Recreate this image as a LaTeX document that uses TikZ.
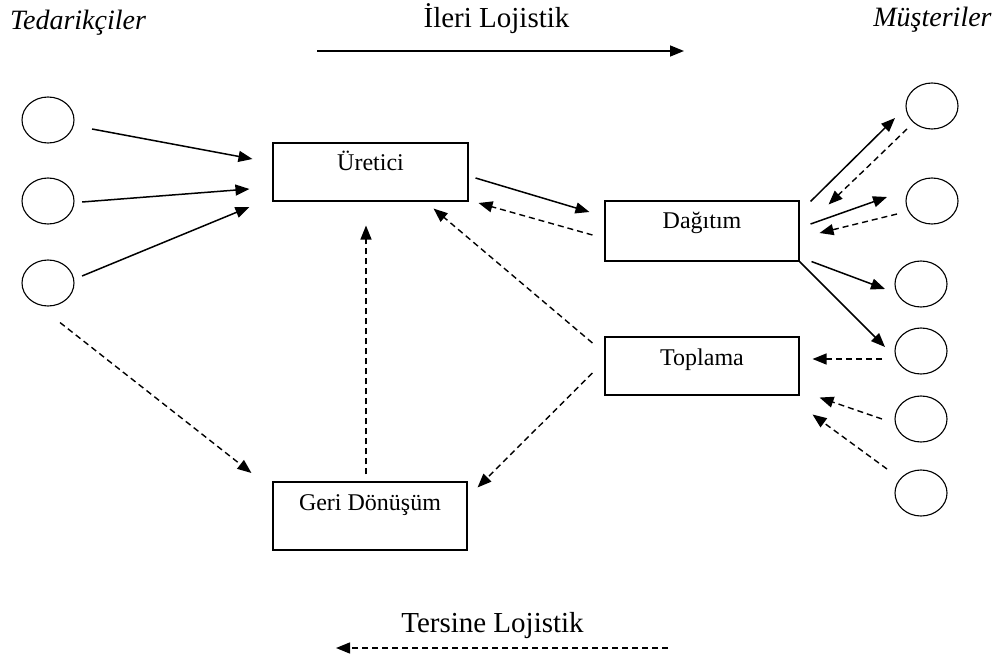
\documentclass[tikz,border=0pt]{standalone}
\usepackage{fontspec}
\setmainfont{Liberation Serif}
\usetikzlibrary{arrows.meta,shapes.geometric,calc}
\begin{document}
\begin{tikzpicture}[x=1pt,y=-1pt,
  circ/.style={draw,ellipse,minimum width=52pt,minimum height=46pt,inner sep=0pt,line width=1.1pt},
  box/.style={draw,rectangle,line width=1.1pt,inner sep=0pt,font=\fontsize{24}{27}\selectfont,text height=17pt},
  fw/.style={line width=1.5pt,-{Triangle[length=14pt,width=11pt]}},
  bw/.style={line width=1.4pt,dash pattern=on 6pt off 4pt,-{Triangle[length=14pt,width=11pt]}},
  head/.style={font=\fontsize{29}{32}\selectfont,anchor=base,inner sep=0pt},
  headi/.style={anchor=base,inner sep=0pt,font=\fontsize{28}{32}\selectfont\itshape}]
\useasboundingbox (0,0) rectangle (998,655);
% headings
\node[headi] (ted) at (78,30) {Tedarikçiler};
\node[headi] (mus) at (932.5,27) {Müşteriler};
\node[head] (ileri) at (496.5,28) {İleri Lojistik};
\node[head] (tersine) at (492.5,632) {Tersine Lojistik};
\coordinate (fa) at (317,51);
\coordinate (fb) at (684,51);
\draw[fw] (fa) -- (fb);
\coordinate (ra) at (668,648);
\coordinate (rb) at (336,648);
\draw[bw] (ra) -- (rb);
% suppliers
\node[circ] (s1) at (48,120) {};
\node[circ] (s2) at (48,201) {};
\node[circ] (s3) at (48,283) {};
% customers
\node[circ] (c1) at (932,106) {};
\node[circ] (c2) at (932,201) {};
\node[circ] (c3) at (921,284) {};
\node[circ] (c4) at (921,351) {};
\node[circ] (c5) at (921,419) {};
\node[circ] (c6) at (921,493) {};
% boxes
\node[box,minimum width=195pt,minimum height=58pt,text depth=19.6pt] (u) at (370.5,172) {Üretici};
\node[box,minimum width=194pt,minimum height=60pt,text depth=21pt] (d) at (702,231) {Dağıtım};
\node[box,minimum width=194pt,minimum height=58pt,text depth=19pt] (t) at (702,366) {Toplama};
\node[box,minimum width=194pt,minimum height=68pt,text depth=27.6pt] (g) at (370,516) {Geri Dönüşüm};
% supplier arrows
\draw[fw] ($(s1.east)+(17.5,9)$) -- ($(u.west)+(-20,-13)$);
\draw[fw] ($(s2.east)+(7.5,1)$) -- ($(u.west)+(-23,17)$);
\draw[fw] ($(s3.east)+(7.5,-7)$) -- ($(u.west)+(-23,35)$);
\draw[bw] ($(s3.south)+(12,16)$) -- ($(g.west)+(-21,-43)$);
% middle
\draw[fw] ($(u.east)+(7,6)$) -- ($(d.west)+(-15,-19)$);
\draw[bw] ($(d.west)+(-12,4)$) -- ($(u.east)+(10,31)$);
\draw[bw] ($(t.west)+(-12,-23)$) -- ($(u.south east)+(-35,7)$);
\draw[bw] ($(t.west)+(-12,7)$) -- ($(g.north east)+(10,6)$);
\draw[bw] ($(g.north)+(-4,-7)$) -- ($(u.south)+(-4.5,24)$);
% customers
\draw[fw] ($(d.north east)+(11,1)$) -- ($(c1.center)+(-37,12)$);
\draw[bw] ($(c1.center)+(-25,23)$) -- ($(d.north east)+(29,4)$);
\draw[fw] ($(d.east)+(11,-7)$) -- ($(c2.center)+(-45,-4)$);
\draw[bw] ($(c2.center)+(-35,13)$) -- ($(d.east)+(20,2)$);
\draw[fw] ($(d.south east)+(12,0)$) -- ($(c3.center)+(-36,5)$);
\draw[fw] (d.south east) -- ($(c4.center)+(-36,-4)$);
\draw[bw] ($(c4.center)+(-39,8)$) -- ($(t.east)+(13,-7)$);
\draw[bw] ($(c5.center)+(-39,0)$) -- ($(t.south east)+(20,2)$);
\draw[bw] ($(c6.center)+(-34,-24)$) -- ($(t.south east)+(13,19)$);
\end{tikzpicture}
\end{document}
